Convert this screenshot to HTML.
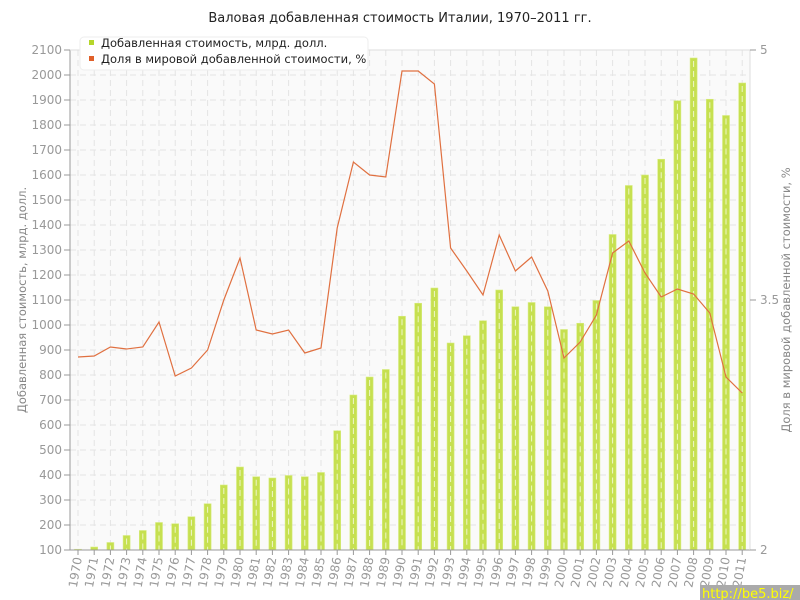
<!DOCTYPE html>
<html><head><meta charset="utf-8"><style>
body{margin:0;background:#fff;width:800px;height:600px;overflow:hidden;font-family:"Liberation Sans","DejaVu Sans",sans-serif}
</style></head><body>
<svg id="s" width="800" height="600" xmlns="http://www.w3.org/2000/svg" style="position:absolute;left:0;top:0">
<rect x="70" y="50" width="680" height="500" fill="#fafafa"/>
<text x="400" y="22" font-size="13" text-anchor="middle" fill="#222" font-family="DejaVu Sans">Валовая добавленная стоимость Италии, 1970–2011 гг.</text>
<g id="grid"></g><g id="bars"></g><g id="line"></g><g id="ax"></g>
<g>
<rect x="80" y="37" width="288" height="33" rx="4" fill="#fff" stroke="#eee"/>
<rect x="89" y="40" width="5" height="5" fill="#b5d62a"/>
<text x="101" y="47" font-size="11.5" fill="#222" font-family="DejaVu Sans">Добавленная стоимость, млрд. долл.</text>
<rect x="89" y="56" width="5" height="5" fill="#e0602a"/>
<text x="101" y="63" font-size="11.5" fill="#222" font-family="DejaVu Sans">Доля в мировой добавленной стоимости, %</text>
</g>
<text transform="translate(26,300) rotate(-90)" font-size="11.5" fill="#888" text-anchor="middle" font-family="DejaVu Sans">Добавленная стоимость, млрд. долл.</text>
<text transform="translate(790,300) rotate(-90)" font-size="11.5" fill="#888" text-anchor="middle" font-family="DejaVu Sans">Доля в мировой добавленной стоимости, %</text>
<rect x="700" y="585" width="100" height="15" fill="#aaa"/>
<text x="702" y="598" font-size="13" fill="#ff0" font-family="DejaVu Sans">http://be5.biz/</text>
</svg>
<script>
var NS="http://www.w3.org/2000/svg";
function el(p,t,a,txt){var e=document.createElementNS(NS,t);for(var k in a)e.setAttribute(k,a[k]);if(txt!=null)e.textContent=txt;document.getElementById(p).appendChild(e);return e;}
var v=[103,112,130,158,178,210,205,233,285,360,432,393,388,398,393,410,577,720,792,822,1035,1087,1148,928,957,1017,1140,1073,1090,1073,982,1007,1098,1362,1558,1600,1663,1897,2068,1903,1838,1968];
var ly=[357,356,347,349,347,322,376,368,350,300,258,330,334,330,353,348,228,162,175,177,71,71,84,248,271,295,235,271,257,291,358,342,315,253,241,273,297,289,294,313,377,393];
function X(i){return 78+i*16.2;}
function Y(val){return 550-(val-100)*0.25;}
for(var g=0;g<20;g++){var y=50+g*25;el("grid","line",{x1:70,x2:750,y1:y,y2:y,stroke:"#e4e4e4","stroke-dasharray":"6,4"});}
for(var i=0;i<42;i++){
 var h=550-Y(v[i]);
 el("bars","rect",{x:X(i)-3.5,y:Y(v[i]),width:7,height:h,fill:"#c6e050",stroke:"#d8ec80","stroke-width":0.6});
 el("grid","line",{x1:X(i),x2:X(i),y1:50,y2:550,stroke:"#e4e4e4","stroke-dasharray":"6,4"});
}
// redraw grid over bars lightly
for(var i=0;i<42;i++){el("bars","line",{x1:X(i),x2:X(i),y1:Y(v[i])+3,y2:550,stroke:"#eef6c8","stroke-dasharray":"6,4"});}
var pts=ly.map(function(y,i){return X(i)+","+y;}).join(" ");
el("line","polyline",{points:pts,fill:"none",stroke:"#e07040","stroke-width":1.2});
el("ax","line",{x1:70,x2:70,y1:50,y2:550,stroke:"#999"});
el("ax","line",{x1:70,x2:750,y1:550,y2:550,stroke:"#999"});
el("ax","line",{x1:750,x2:750,y1:50,y2:550,stroke:"#ddd"});
el("ax","line",{x1:70,x2:750,y1:50,y2:50,stroke:"#ddd"});
for(var g=0;g<=20;g++){var y=50+g*25;el("ax","line",{x1:64,x2:70,y1:y,y2:y,stroke:"#999"});
 el("ax","text",{x:62,y:y+4,"font-size":12,fill:"#999","text-anchor":"end","font-family":"DejaVu Sans"},String(2100-g*100));}
[[50,"5"],[300,"3.5"],[550,"2"]].forEach(function(a){el("ax","line",{x1:750,x2:756,y1:a[0],y2:a[0],stroke:"#999"});
 el("ax","text",{x:760,y:a[0]+4,"font-size":12,fill:"#999","font-family":"DejaVu Sans"},a[1]);});
for(var i=0;i<42;i++){var x=X(i);el("ax","line",{x1:x,x2:x,y1:550,y2:555,stroke:"#999"});
 el("ax","text",{transform:"translate("+(x+4)+",558) rotate(-80)","font-size":12,fill:"#999","text-anchor":"end","font-family":"DejaVu Sans"},String(1970+i));}
</script>
</body></html>
